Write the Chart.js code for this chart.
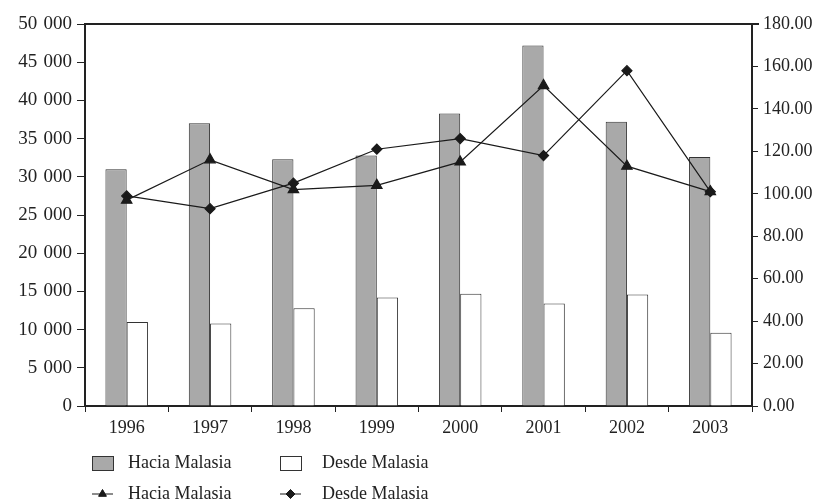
<!DOCTYPE html>
<html>
<head>
<meta charset="utf-8">
<script src="https://cdn.jsdelivr.net/npm/chart.js@4.4.0/dist/chart.umd.min.js"></script>
<style>
  body { margin: 0; background: #fff; }
  #wrap { width: 818px; height: 502px; }
</style>
</head>
<body>
<div id="wrap"><canvas id="turismoChart" width="818" height="502"></canvas></div>
<script>
// Datos
const years = ['1996', '1997', '1998', '1999', '2000', '2001', '2002', '2003'];
const haciaBars = [31000, 37000, 32300, 32800, 38300, 47200, 37200, 32600];
const desdeBars = [11000, 10800, 12800, 14200, 14700, 13400, 14600, 9600];
const haciaLine = [97, 116, 102, 104, 115, 151, 113, 101];
const desdeLine = [99, 93, 105, 121, 126, 118, 158, 101];
const seriesNames = ['Hacia Malasia', 'Desde Malasia'];

const ink = '#222';
const fontFam = '"Liberation Serif", "Times New Roman", serif';

// Separador de miles con espacio
function miles(v) {
    return String(v).replace(/\B(?=(\d{3})+(?!\d))/g, '\u2004');
}

// Línea superior del marco
const topFrame = {
    id: 'topFrame',
    afterDraw(chart) {
        const a = chart.chartArea, ctx = chart.ctx;
        ctx.save();
        ctx.strokeStyle = ink;
        ctx.lineWidth = 2;
        ctx.beginPath();
        ctx.moveTo(a.left - 1, a.top);
        ctx.lineTo(a.right + 7, a.top);
        ctx.stroke();
        ctx.restore();
    }
};

// Leyenda en dos filas, dibujada a mano
const legendRows = {
    id: 'legendRows',
    afterDraw(chart) {
        const ctx = chart.ctx;
        const cols = [92, 280];
        const rows = [463, 494];
        ctx.save();
        ctx.font = '18px ' + fontFam;
        ctx.fillStyle = ink;
        ctx.textBaseline = 'middle';
        chart.data.datasets.forEach((ds, i) => {
            const x = cols[i % 2];
            const y = rows[Math.floor(i / 2)];
            if (ds.type === 'bar') {
                ctx.fillStyle = ds.backgroundColor;
                ctx.fillRect(x, y - 7, 21, 14);
                ctx.strokeStyle = '#333';
                ctx.lineWidth = 1;
                ctx.strokeRect(x + 0.5, y - 6.5, 21, 14);
            } else {
                ctx.strokeStyle = ds.borderColor;
                ctx.lineWidth = 1;
                ctx.beginPath();
                ctx.moveTo(x, y);
                ctx.lineTo(x + 21, y);
                ctx.stroke();
                Chart.helpers.drawPoint(ctx, {
                    pointStyle: ds.pointStyle, radius: 4.5, rotation: 0, borderWidth: 1
                }, x + 10.5, y);
                ctx.fillStyle = ds.pointBackgroundColor;
                ctx.fill();
            }
            ctx.fillStyle = ink;
            ctx.fillText(ds.label, x + (i % 2 === 0 ? 36 : 42), y);
        });
        ctx.restore();
    }
};

const ctx = document.getElementById('turismoChart').getContext('2d');
const chart = new Chart(ctx, {
    data: {
        labels: years,
        datasets: [
            {
                type: 'bar', label: seriesNames[0], data: haciaBars, yAxisID: 'y',
                backgroundColor: '#a9a9a9', borderColor: '#333', borderWidth: 1,
                categoryPercentage: 0.51, barPercentage: 1, order: 2
            },
            {
                type: 'bar', label: seriesNames[1], data: desdeBars, yAxisID: 'y',
                backgroundColor: '#ffffff', borderColor: '#333', borderWidth: 1,
                categoryPercentage: 0.51, barPercentage: 1, order: 2
            },
            {
                type: 'line', label: seriesNames[0], data: haciaLine, yAxisID: 'y1',
                borderColor: '#1a1a1a', borderWidth: 1.2, pointStyle: 'triangle',
                pointRadius: 6, pointBackgroundColor: '#1a1a1a', pointBorderColor: '#1a1a1a',
                tension: 0, order: 1
            },
            {
                type: 'line', label: seriesNames[1], data: desdeLine, yAxisID: 'y1',
                borderColor: '#1a1a1a', borderWidth: 1.2, pointStyle: 'rectRot',
                pointRadius: 5, pointBackgroundColor: '#1a1a1a', pointBorderColor: '#1a1a1a',
                tension: 0, order: 1
            }
        ]
    },
    options: {
        responsive: false,
        animation: false,
        layout: { padding: { top: 24, left: 0, right: 0, bottom: 0 } },
        plugins: {
            legend: { display: false },
            tooltip: { enabled: false }
        },
        scales: {
            x: {
                offset: true,
                grid: { offset: true, drawOnChartArea: false, drawTicks: true, tickLength: 6, color: ink },
                border: { display: true, color: ink, width: 2 },
                ticks: { color: ink, font: { family: fontFam, size: 18 }, padding: 5, maxRotation: 0 },
                afterFit: s => { s.height = 96; }
            },
            y: {
                position: 'left',
                min: 0, max: 50000,
                grid: { drawOnChartArea: false, drawTicks: true, tickLength: 8, color: ink },
                border: { display: true, color: ink, width: 2 },
                ticks: {
                    stepSize: 5000, color: ink, padding: 5,
                    font: { family: fontFam, size: 19 },
                    callback: v => miles(v)
                },
                afterFit: s => { s.width = 85; }
            },
            y1: {
                position: 'right',
                min: 0, max: 180,
                grid: { drawOnChartArea: false, drawTicks: true, tickLength: 6, color: ink },
                border: { display: true, color: ink, width: 2 },
                ticks: {
                    stepSize: 20, color: ink, padding: 5,
                    font: { family: fontFam, size: 18 },
                    callback: v => v.toFixed(2)
                },
                afterFit: s => { s.width = 66; }
            }
        }
    },
    plugins: [topFrame, legendRows]
});
</script>
</body>
</html>
